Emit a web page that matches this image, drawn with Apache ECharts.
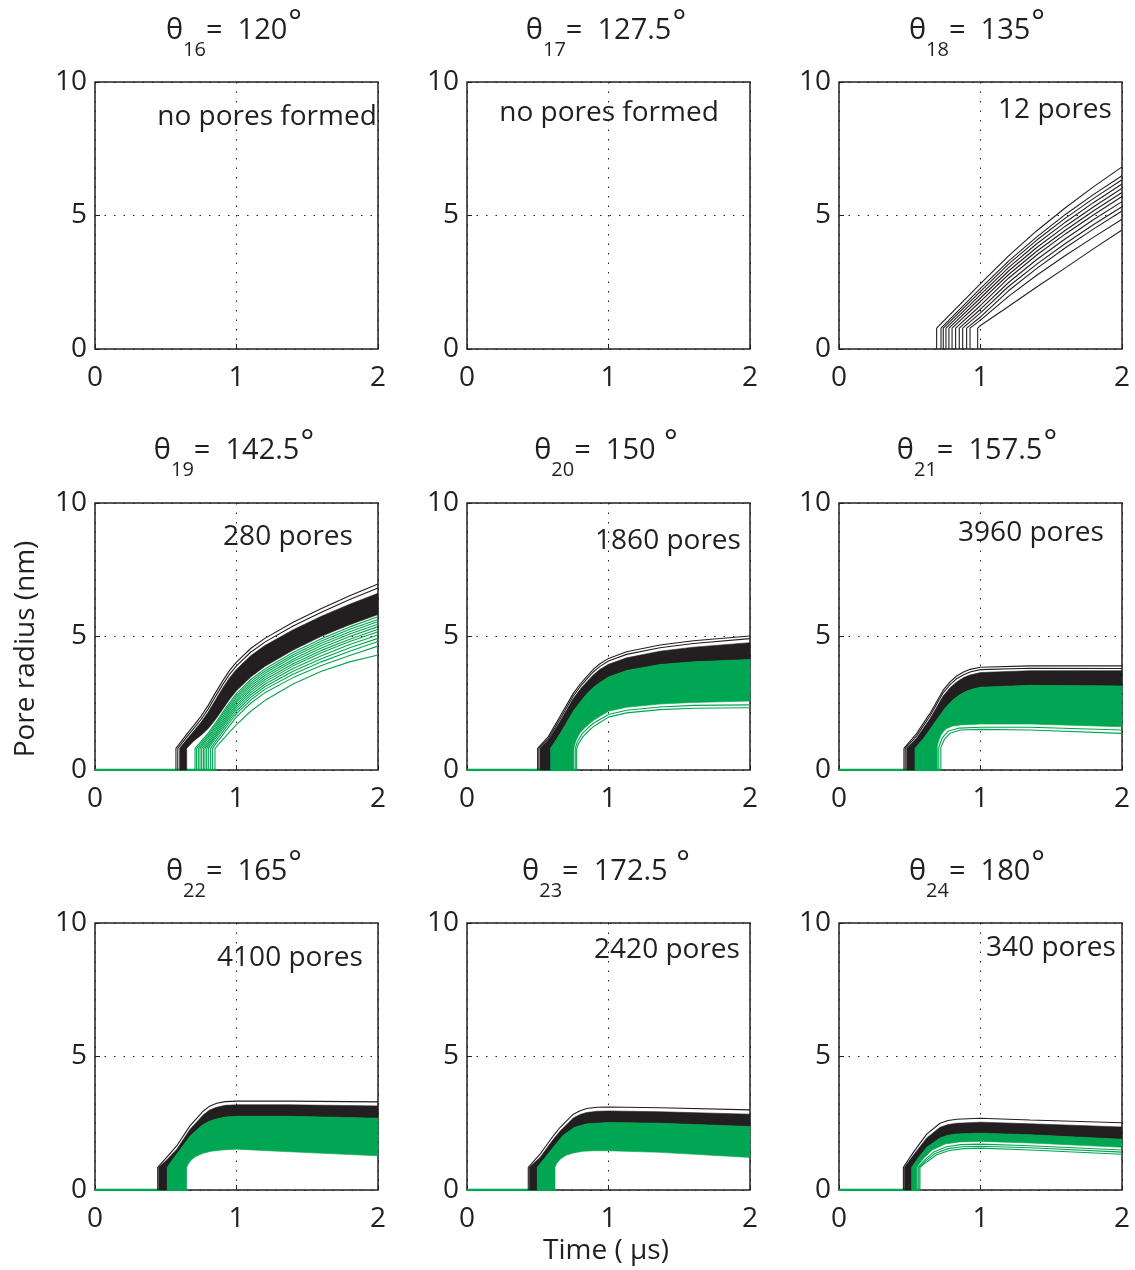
<!DOCTYPE html>
<html>
<head>
<meta charset="utf-8">
<script src="https://cdn.jsdelivr.net/npm/echarts@6/dist/echarts.min.js"></script>
<style>
  html, body { margin: 0; padding: 0; background: #fff; }
  #chart { width: 1135px; height: 1270px; }
</style>
</head>
<body>
<div id="chart"></div>
<script>
// ---- labels ----
const thetaIndex = ['16', '17', '18', '19', '20', '21', '22', '23', '24'];
const thetaValue = ['120', '127.5', '135', '142.5', '150 ', '157.5', '165', '172.5 ', '180'];
const poreText = ['no pores formed', 'no pores formed', '12 pores', '280 pores', '1860 pores',
  '3960 pores', '4100 pores', '2420 pores', '340 pores'];
const xTicks = [0, 1, 2];
const yTicks = [0, 5, 10];

// ---- θ18 = 135°: 12 pores, one line each ----
const p18Onset = [0.690, 0.721, 0.737, 0.756, 0.777, 0.799, 0.824, 0.850, 0.874, 0.902, 0.926, 0.980];
const p18Jump = 0.78;
const p18Times = [1.0, 1.2, 1.4, 1.6, 1.8, 2.0];
const p18Radius = [
  [2.45, 3.50, 4.44, 5.29, 6.08, 6.82],
  [2.27, 3.30, 4.21, 5.04, 5.79, 6.49],
  [2.16, 3.19, 4.09, 4.90, 5.64, 6.34],
  [2.04, 3.06, 3.95, 4.75, 5.49, 6.18],
  [1.91, 2.93, 3.81, 4.60, 5.33, 6.02],
  [1.78, 2.80, 3.67, 4.45, 5.18, 5.86],
  [1.63, 2.66, 3.53, 4.31, 5.03, 5.71],
  [1.49, 2.50, 3.36, 4.13, 4.85, 5.52],
  [1.35, 2.35, 3.19, 3.95, 4.66, 5.33],
  [1.20, 2.19, 3.03, 3.79, 4.50, 5.17],
  [1.08, 1.98, 2.77, 3.50, 4.19, 4.86],
  [0.88, 1.60, 2.33, 3.04, 3.76, 4.46]
];

// ---- θ19 = 142.5°: 280 pores ----
const p19Times = [0.65, 0.70, 0.75, 0.80, 0.85, 0.90, 0.95, 1.00, 1.10, 1.20, 1.40, 1.60, 1.80, 2.00];
const p19BlackOnset = [0.572, 0.585, 0.598, 0.648];
const p19BlackRadius = [
  [1.35, 1.68, 2.02, 2.42, 2.88, 3.32, 3.72, 4.04, 4.55, 4.93, 5.53, 6.05, 6.53, 6.97], // outer line
  [1.25, 1.57, 1.90, 2.29, 2.74, 3.18, 3.58, 3.90, 4.41, 4.79, 5.39, 5.91, 6.39, 6.82], // outer line
  [1.16, 1.47, 1.80, 2.17, 2.61, 3.05, 3.45, 3.77, 4.28, 4.66, 5.25, 5.76, 6.21, 6.62], // band top
  [0.82, 1.10, 1.30, 1.55, 1.88, 2.26, 2.64, 2.97, 3.48, 3.88, 4.49, 5.01, 5.44, 5.82]  // band bottom
];
const p19Jump = 0.81;
const p19GreenOnset = [0.707, 0.718, 0.730, 0.742, 0.754, 0.766, 0.777, 0.789, 0.801, 0.817, 0.831, 0.848];
const p19GreenTimes = [0.75, 0.80, 0.85, 0.90, 0.95, 1.00, 1.10, 1.20, 1.40, 1.60, 1.80, 2.00];
const p19GreenRadius = [
  [1.07, 1.38, 1.75, 2.14, 2.52, 2.86, 3.38, 3.78, 4.40, 4.92, 5.36, 5.74],
  [1.00, 1.31, 1.67, 2.06, 2.44, 2.78, 3.30, 3.70, 4.32, 4.83, 5.27, 5.64],
  [0.92, 1.24, 1.60, 1.98, 2.36, 2.70, 3.22, 3.62, 4.24, 4.75, 5.18, 5.56],
  [0.85, 1.17, 1.52, 1.90, 2.28, 2.62, 3.14, 3.54, 4.15, 4.66, 5.09, 5.46],
  [null, 1.09, 1.45, 1.82, 2.20, 2.54, 3.06, 3.46, 4.07, 4.57, 5.00, 5.37],
  [null, 1.02, 1.37, 1.74, 2.12, 2.46, 2.98, 3.38, 3.98, 4.48, 4.90, 5.27],
  [null, 0.96, 1.30, 1.67, 2.04, 2.38, 2.90, 3.30, 3.90, 4.39, 4.81, 5.18],
  [null, 0.88, 1.23, 1.59, 1.96, 2.30, 2.81, 3.21, 3.80, 4.28, 4.70, 5.06],
  [null, null, 1.16, 1.51, 1.87, 2.21, 2.72, 3.12, 3.70, 4.17, 4.58, 4.93],
  [null, null, 1.06, 1.41, 1.77, 2.11, 2.62, 3.02, 3.59, 4.05, 4.45, 4.81],
  [null, null, 0.96, 1.30, 1.65, 1.99, 2.50, 2.89, 3.46, 3.91, 4.29, 4.64],
  [null, null, 0.82, 1.12, 1.42, 1.70, 2.20, 2.60, 3.22, 3.70, 4.05, 4.31]
];

// ---- θ20 = 150°: 1860 pores ----
const p20OuterA = [[0.499, 0], [0.499, 0.81], [0.575, 1.25], [0.657, 2.00], [0.751, 2.87], [0.800, 3.22], [0.846, 3.50], [0.894, 3.78], [0.940, 3.98], [1.000, 4.18], [1.128, 4.43], [1.364, 4.68], [1.600, 4.84], [2.000, 5.02]];
const p20OuterB = [[0.508, 0], [0.508, 0.81], [0.575, 1.17], [0.657, 1.90], [0.751, 2.77], [0.800, 3.12], [0.846, 3.40], [0.894, 3.68], [0.940, 3.88], [1.000, 4.08], [1.128, 4.33], [1.364, 4.58], [1.600, 4.74], [2.000, 4.92]];
const p20BlackTop = [[0.516, 0], [0.516, 0.81], [0.575, 1.12], [0.657, 1.82], [0.751, 2.68], [0.800, 3.02], [0.846, 3.30], [0.894, 3.57], [0.940, 3.77], [1.000, 3.96], [1.128, 4.20], [1.364, 4.45], [1.600, 4.60], [2.000, 4.77]];
const p20BlackBot = [[0.591, 0], [0.591, 0.81], [0.657, 1.35], [0.751, 2.20], [0.800, 2.55], [0.846, 2.85], [0.894, 3.10], [0.940, 3.28], [1.000, 3.48], [1.128, 3.73], [1.364, 3.95], [1.600, 4.05], [2.000, 4.14]];
const p20GreenBot = [[0.755, 0], [0.755, 0.81], [0.770, 1.10], [0.800, 1.40], [0.840, 1.62], [0.893, 1.85], [1.000, 2.20], [1.128, 2.35], [1.364, 2.47], [1.600, 2.53], [2.000, 2.58]];
const p20GreenLow = [
  [[0.765, 0], [0.765, 0.81], [0.780, 1.05], [0.810, 1.33], [0.850, 1.55], [0.893, 1.75], [1.000, 2.08], [1.128, 2.24], [1.364, 2.36], [1.600, 2.42], [2.000, 2.44]],
  [[0.775, 0], [0.775, 0.81], [0.790, 1.00], [0.820, 1.25], [0.860, 1.47], [0.900, 1.65], [1.000, 1.98], [1.128, 2.14], [1.364, 2.26], [1.600, 2.31], [2.000, 2.33]]
];

// ---- θ21 = 157.5°: 3960 pores ----
const p21OuterA = [[0.459, 0], [0.459, 0.81], [0.549, 1.37], [0.643, 2.12], [0.737, 3.00], [0.785, 3.30], [0.832, 3.52], [0.880, 3.67], [0.926, 3.77], [1.000, 3.85], [1.350, 3.90], [2.000, 3.90]];
const p21OuterB = [[0.468, 0], [0.468, 0.81], [0.549, 1.28], [0.643, 2.02], [0.737, 2.90], [0.785, 3.20], [0.832, 3.42], [0.880, 3.57], [0.926, 3.67], [1.000, 3.76], [1.350, 3.81], [2.000, 3.80]];
const p21BlackTop = [[0.478, 0], [0.478, 0.81], [0.549, 1.20], [0.643, 1.92], [0.737, 2.78], [0.785, 3.08], [0.832, 3.30], [0.880, 3.46], [0.926, 3.56], [1.000, 3.65], [1.350, 3.72], [2.000, 3.72]];
const p21BlackBot = [[0.537, 0], [0.537, 0.81], [0.600, 1.20], [0.700, 1.95], [0.750, 2.32], [0.800, 2.60], [0.850, 2.81], [0.900, 2.95], [0.950, 3.04], [1.000, 3.10], [1.350, 3.17], [2.000, 3.15]];
const p21GreenBot = [[0.695, 0], [0.695, 0.90], [0.705, 1.10], [0.720, 1.30], [0.740, 1.45], [0.760, 1.55], [0.800, 1.64], [0.860, 1.69], [1.000, 1.72], [1.350, 1.72], [2.000, 1.62]];
const p21GreenLow = [
  [[0.705, 0], [0.705, 0.85], [0.730, 1.20], [0.770, 1.45], [0.850, 1.57], [1.000, 1.60], [1.350, 1.60], [2.000, 1.50]],
  [[0.720, 0], [0.720, 0.85], [0.745, 1.15], [0.785, 1.38], [0.860, 1.50], [1.000, 1.52], [1.350, 1.50], [2.000, 1.37]]
];

// ---- θ22 = 165°: 4100 pores ----
const p22OuterA = [[0.443, 0], [0.443, 0.85], [0.506, 1.22], [0.577, 1.65], [0.671, 2.40], [0.766, 2.96], [0.810, 3.14], [0.860, 3.25], [0.920, 3.31], [1.000, 3.33], [1.378, 3.33], [2.000, 3.30]];
const p22BlackTop = [[0.450, 0], [0.450, 0.85], [0.506, 1.12], [0.577, 1.52], [0.671, 2.27], [0.766, 2.82], [0.810, 3.00], [0.860, 3.10], [0.920, 3.17], [1.000, 3.19], [1.378, 3.19], [2.000, 3.15]];
const p22BlackBot = [[0.511, 0], [0.511, 0.85], [0.550, 1.15], [0.600, 1.50], [0.670, 2.00], [0.750, 2.40], [0.800, 2.56], [0.850, 2.65], [0.920, 2.73], [1.000, 2.76], [1.378, 2.76], [2.000, 2.69]];
const p22GreenBot = [[0.648, 0], [0.648, 0.85], [0.660, 0.98], [0.680, 1.12], [0.710, 1.25], [0.760, 1.37], [0.820, 1.45], [0.900, 1.50], [1.000, 1.53], [1.378, 1.43], [2.000, 1.28]];

// ---- θ23 = 172.5°: 2420 pores ----
const p23OuterA = [[0.433, 0], [0.433, 0.85], [0.516, 1.34], [0.610, 2.03], [0.657, 2.34], [0.751, 2.84], [0.800, 2.97], [0.846, 3.05], [0.920, 3.10], [1.000, 3.11], [1.364, 3.08], [2.000, 3.00]];
const p23BlackTop = [[0.440, 0], [0.440, 0.85], [0.516, 1.22], [0.610, 1.90], [0.657, 2.20], [0.751, 2.70], [0.800, 2.83], [0.846, 2.90], [0.920, 2.95], [1.000, 2.96], [1.364, 2.93], [2.000, 2.84]];
const p23BlackBot = [[0.497, 0], [0.497, 0.85], [0.550, 1.20], [0.610, 1.60], [0.680, 2.05], [0.760, 2.35], [0.850, 2.48], [1.000, 2.53], [1.364, 2.50], [2.000, 2.38]];
const p23GreenBot = [[0.622, 0], [0.622, 0.85], [0.635, 1.00], [0.660, 1.16], [0.700, 1.30], [0.751, 1.39], [0.820, 1.45], [0.893, 1.47], [1.000, 1.47], [1.364, 1.41], [2.000, 1.22]];

// ---- θ24 = 180°: 340 pores ----
const p24OuterA = [[0.455, 0], [0.455, 0.85], [0.525, 1.41], [0.620, 2.09], [0.714, 2.50], [0.770, 2.60], [0.832, 2.65], [1.000, 2.69], [1.350, 2.62], [2.000, 2.52]];
const p24BlackTop = [[0.462, 0], [0.462, 0.85], [0.525, 1.30], [0.620, 1.95], [0.714, 2.35], [0.770, 2.45], [0.832, 2.50], [1.000, 2.54], [1.350, 2.48], [2.000, 2.36]];
const p24BlackBot = [[0.514, 0], [0.514, 0.85], [0.560, 1.20], [0.620, 1.60], [0.714, 1.95], [0.770, 2.05], [0.832, 2.10], [1.000, 2.13], [1.350, 2.07], [2.000, 1.90]];
const p24GreenBot = [[0.550, 0], [0.550, 0.85], [0.600, 1.20], [0.660, 1.50], [0.750, 1.72], [0.850, 1.80], [1.000, 1.82], [1.350, 1.76], [2.000, 1.60]];
const p24GreenLow = [
  [[0.558, 0], [0.558, 0.85], [0.610, 1.15], [0.670, 1.42], [0.760, 1.62], [0.860, 1.70], [1.000, 1.72], [1.350, 1.66], [2.000, 1.50]],
  [[0.565, 0], [0.565, 0.85], [0.615, 1.10], [0.680, 1.37], [0.770, 1.55], [0.870, 1.62], [1.000, 1.64], [1.350, 1.58], [2.000, 1.42]],
  [[0.572, 0], [0.572, 0.85], [0.625, 1.07], [0.690, 1.32], [0.780, 1.48], [0.880, 1.55], [1.000, 1.57], [1.350, 1.50], [2.000, 1.34]]
];

// ---- styling / layout ----
const INK = '#231f20';
const GREEN = '#00a651';
const FONT = "'Open Sans', 'Noto Sans', sans-serif";
const colLeft = [95, 467, 839];
const rowTop = [82, 503, 923];
const PW = 283, PH = 267;

// one curve per row: vertical jump at onset, then the sampled radii
function family(onsets, jump, times, radii) {
  return radii.map((row, i) => {
    const pts = [[onsets[i], 0], [onsets[i], jump]];
    times.forEach((t, j) => { if (row[j] != null && t > onsets[i]) pts.push([t, row[j]]); });
    return pts;
  });
}

const grids = [], xAxes = [], yAxes = [], series = [], graphics = [];

for (let i = 0; i < 9; i++) {
  const left = colLeft[i % 3], top = rowTop[Math.floor(i / 3)];
  grids.push({ left, top, width: PW, height: PH, show: true, borderColor: INK, borderWidth: 1.5,
    backgroundColor: 'transparent' });
  const dotted = { show: true, lineStyle: { color: INK, width: 1, type: [1.5, 8] } };
  xAxes.push({ gridIndex: i, type: 'value', min: xTicks[0], max: xTicks[2], interval: xTicks[1] - xTicks[0],
    axisLine: { show: false }, axisTick: { show: true, inside: true, length: 5, lineStyle: { color: INK } },
    axisLabel: { fontSize: 28, color: INK, fontFamily: FONT, margin: 15 }, splitLine: dotted });
  yAxes.push({ gridIndex: i, type: 'value', min: yTicks[0], max: yTicks[2], interval: yTicks[1] - yTicks[0],
    axisLine: { show: false }, axisTick: { show: true, inside: true, length: 5, lineStyle: { color: INK } },
    axisLabel: { fontSize: 28, color: INK, fontFamily: FONT, margin: 8 }, splitLine: dotted });
}

function addLine(gi, pts, color, width, z) {
  series.push({ type: 'line', xAxisIndex: gi, yAxisIndex: gi, data: pts, symbol: 'none', showSymbol: false,
    silent: true, z: z || 4, lineStyle: { color, width } });
}
function addBand(gi, upper, lower, color, z) {
  const poly = upper.concat(lower.slice().reverse());
  series.push({ type: 'custom', xAxisIndex: gi, yAxisIndex: gi, data: [[0, 0]], clip: false, silent: true, z: z || 3,
    renderItem: (params, api) => ({ type: 'polygon', shape: { points: poly.map(p => api.coord(p)) },
      style: { fill: color, stroke: color, lineWidth: 0.6 } }) });
}
function addBaseline(gi, curves) {
  const end = Math.max(...curves.map(c => c[0][0]));
  addLine(gi, [[0, 0], [end, 0]], GREEN, 2.4, 2);
}

// panel 3 (θ18)
family(p18Onset, p18Jump, p18Times, p18Radius).forEach(c => addLine(2, c, INK, 1.1));

// panel 4 (θ19)
const p19Black = family(p19BlackOnset, p19Jump, p19Times, p19BlackRadius);
const p19Green = family(p19GreenOnset, p19Jump, p19GreenTimes, p19GreenRadius);
addBaseline(3, p19Green);
addBand(3, p19Black[2], p19Black[3], INK);
addLine(3, p19Black[0], INK, 1.1);
addLine(3, p19Black[1], INK, 1.1);
p19Green.forEach(c => addLine(3, c, GREEN, 1.1, 5));

// panel 5 (θ20)
addBaseline(4, p20GreenLow);
addBand(4, p20BlackTop, p20BlackBot, INK);
addBand(4, p20BlackBot, p20GreenBot, GREEN);
addLine(4, p20OuterA, INK, 1.1);
addLine(4, p20OuterB, INK, 1.1);
p20GreenLow.forEach(c => addLine(4, c, GREEN, 1.1));

// panel 6 (θ21)
addBaseline(5, p21GreenLow);
addBand(5, p21BlackTop, p21BlackBot, INK);
addBand(5, p21BlackBot, p21GreenBot, GREEN);
addLine(5, p21OuterA, INK, 1.1);
addLine(5, p21OuterB, INK, 1.1);
p21GreenLow.forEach(c => addLine(5, c, GREEN, 1.1));

// panel 7 (θ22)
addBaseline(6, [p22GreenBot]);
addBand(6, p22BlackTop, p22BlackBot, INK);
addBand(6, p22BlackBot, p22GreenBot, GREEN);
addLine(6, p22OuterA, INK, 1.1);

// panel 8 (θ23)
addBaseline(7, [p23GreenBot]);
addBand(7, p23BlackTop, p23BlackBot, INK);
addBand(7, p23BlackBot, p23GreenBot, GREEN);
addLine(7, p23OuterA, INK, 1.1);

// panel 9 (θ24)
addBaseline(8, p24GreenLow);
addBand(8, p24BlackTop, p24BlackBot, INK);
addBand(8, p24BlackBot, p24GreenBot, GREEN);
addLine(8, p24OuterA, INK, 1.1);
p24GreenLow.forEach(c => addLine(8, c, GREEN, 1.1));

// titles: θ with subscript index and raised degree sign
const titleCenterX = [234, 606, 977];
const titleCenterY = [31, 451, 872];
const poreX = [267, 609, 1055, 288, 668, 1031, 290, 667, 1051];
const poreY = [117, 113, 110, 537, 541, 533, 958, 950, 948];
for (let i = 0; i < 9; i++) {
  graphics.push({
    type: 'text', x: titleCenterX[i % 3], y: titleCenterY[Math.floor(i / 3)],
    style: {
      text: '{m|θ}{s|' + thetaIndex[i] + '}{m|=  ' + thetaValue[i] + '}{d|°}',
      align: 'center', verticalAlign: 'middle', textAlign: 'center', textVerticalAlign: 'middle',
      rich: {
        m: { fontSize: 29, fontFamily: FONT, fill: INK, lineHeight: 58, verticalAlign: 'middle' },
        s: { fontSize: 20, fontFamily: FONT, fill: INK, lineHeight: 22, verticalAlign: 'bottom' },
        d: { fontSize: 32, fontFamily: FONT, fill: INK, lineHeight: 30, verticalAlign: 'top', padding: [6, 0, 0, 1] }
      }
    }
  });
  graphics.push({
    type: 'text', x: poreX[i], y: poreY[i], z: 10,
    style: { text: poreText[i], font: '28px ' + FONT, fill: INK,
      align: 'center', verticalAlign: 'middle', textAlign: 'center', textVerticalAlign: 'middle' }
  });
}
graphics.push({
  type: 'text', x: 26, y: 649, rotation: Math.PI / 2,
  style: { text: 'Pore radius (nm)', font: '28px ' + FONT, fill: INK,
    align: 'center', verticalAlign: 'middle', textAlign: 'center', textVerticalAlign: 'middle' }
});
graphics.push({
  type: 'text', x: 606, y: 1251,
  style: { text: 'Time ( μs)', font: '28px ' + FONT, fill: INK,
    align: 'center', verticalAlign: 'middle', textAlign: 'center', textVerticalAlign: 'middle' }
});

const chart = echarts.init(document.getElementById('chart'), null, { renderer: 'canvas' });
chart.setOption({
  animation: false,
  backgroundColor: '#fff',
  textStyle: { fontFamily: FONT },
  grid: grids,
  xAxis: xAxes,
  yAxis: yAxes,
  series: series,
  graphic: graphics
});
</script>
</body>
</html>
